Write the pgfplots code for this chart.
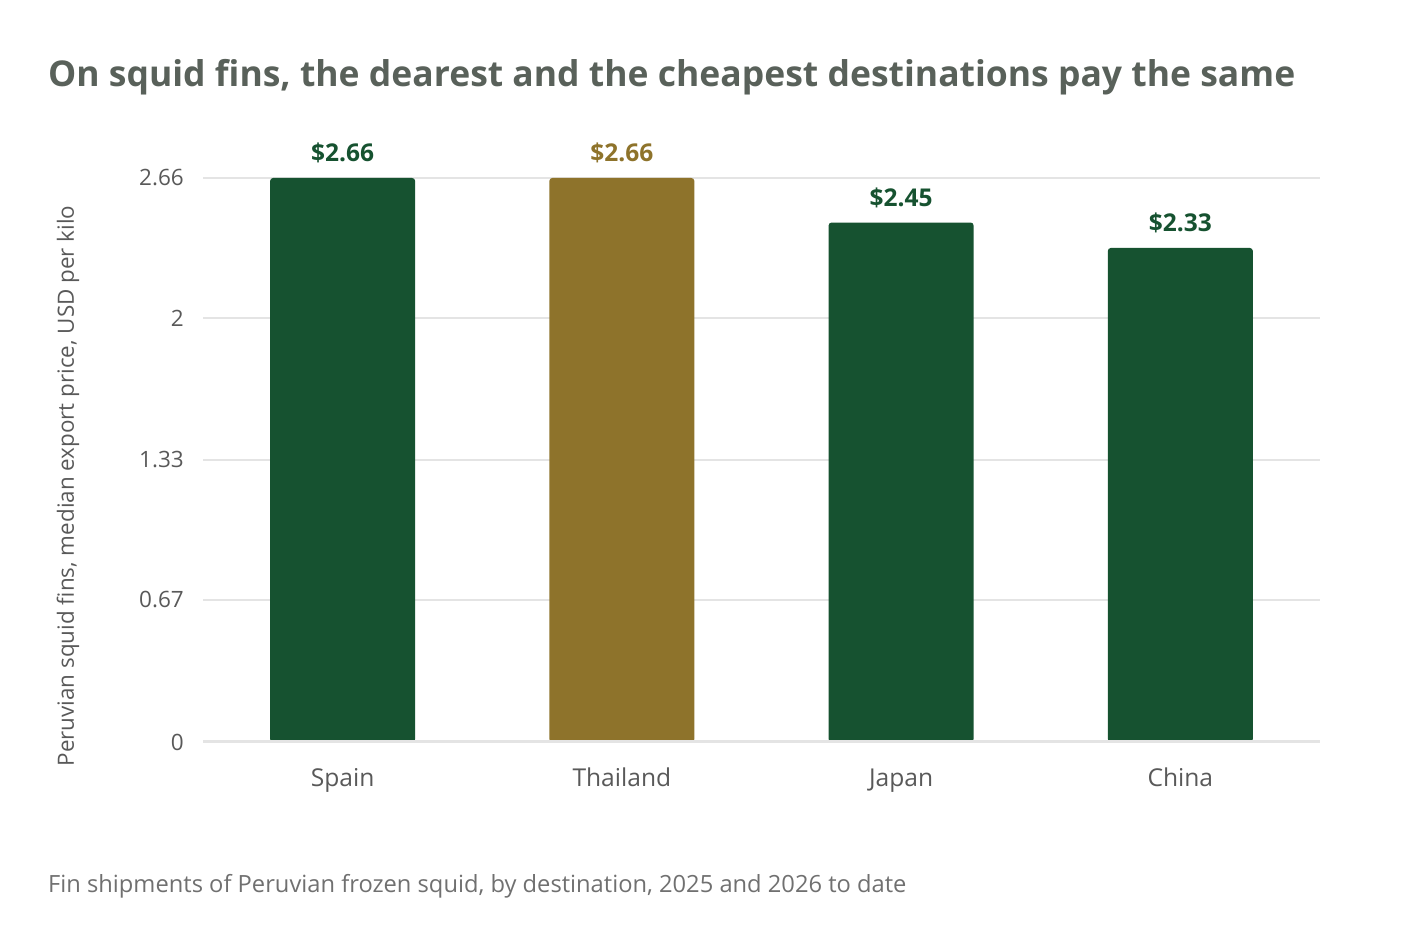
\documentclass[border=0pt]{standalone}
\usepackage{fontspec}
\setmainfont{Open Sans}
\usepackage{pgfplots}
\pgfplotsset{compat=1.18}
\definecolor{bargreen}{HTML}{165230}
\definecolor{bargold}{HTML}{8E732B}
\definecolor{titlecol}{HTML}{59615A}
\definecolor{tickcol}{HTML}{595959}
\definecolor{footcol}{HTML}{707070}
\definecolor{gridcol}{HTML}{E4E4E4}
\begin{document}
\begin{tikzpicture}[x=1pt,y=1pt]
\useasboundingbox (0,0) rectangle (1416,950);
\node[anchor=base west, inner sep=0, text=titlecol, font=\fontsize{35.5}{40}\selectfont\bfseries] at (48,863) {On squid fins, the dearest and the cheapest destinations pay the same};
\node[anchor=base west, inner sep=0, text=footcol, font=\fontsize{23.7}{28}\selectfont] at (48,57) {Fin shipments of Peruvian frozen squid, by destination, 2025 and 2026 to date};
\node[rotate=90, inner sep=0, text=tickcol, font=\fontsize{22.4}{26}\selectfont] at (68,464) {Peruvian squid fins, median export price, USD per kilo};
\begin{axis}[
  at={(203pt,208pt)}, anchor=south west,
  scale only axis, width=1117pt, height=564pt,
  xmin=-0.5, xmax=3.5, ymin=0, ymax=2.66,
  axis line style={draw=none},
  tick style={draw=none},
  ytick={0,0.67,1.33,2,2.66},
  yticklabels={0,0.67,1.33,2,2.66},
  xtick={0,1,2,3},
  xticklabels={Spain,Thailand,Japan,China},
  ymajorgrids, grid style={gridcol, line width=1.5pt},
  major tick length=0pt,
  yticklabel style={anchor=east, inner sep=0pt, xshift=-19pt, text=tickcol, font=\fontsize{22.5}{26}\selectfont},
  xticklabel style={anchor=base, inner sep=0pt, yshift=-45pt, text=tickcol, font=\fontsize{24.6}{28}\selectfont},
  ybar, bar width=145pt, bar shift=0pt,
  nodes near coords={\$\pgfmathprintnumber[fixed,precision=2,fixed zerofill]{\pgfplotspointmeta}},
  nodes near coords style={anchor=base, inner sep=0pt, yshift=16pt, font=\fontsize{24.5}{28}\selectfont\bfseries},
  /pgf/number format/assume math mode=true,
  clip=false,
]
\addplot[draw=none, fill=bargreen, rounded corners=3pt, nodes near coords style={text=bargreen}] coordinates {(0,2.66)};
\addplot[draw=none, fill=bargold, rounded corners=3pt, nodes near coords style={text=bargold}] coordinates {(1,2.66)};
\addplot[draw=none, fill=bargreen, rounded corners=3pt, nodes near coords style={text=bargreen}] coordinates {(2,2.45)};
\addplot[draw=none, fill=bargreen, rounded corners=3pt, nodes near coords style={text=bargreen}] coordinates {(3,2.33)};
\draw[gridcol, line width=3pt] (axis cs:-0.5,0) -- (axis cs:3.5,0);
\end{axis}
\end{tikzpicture}
\end{document}
